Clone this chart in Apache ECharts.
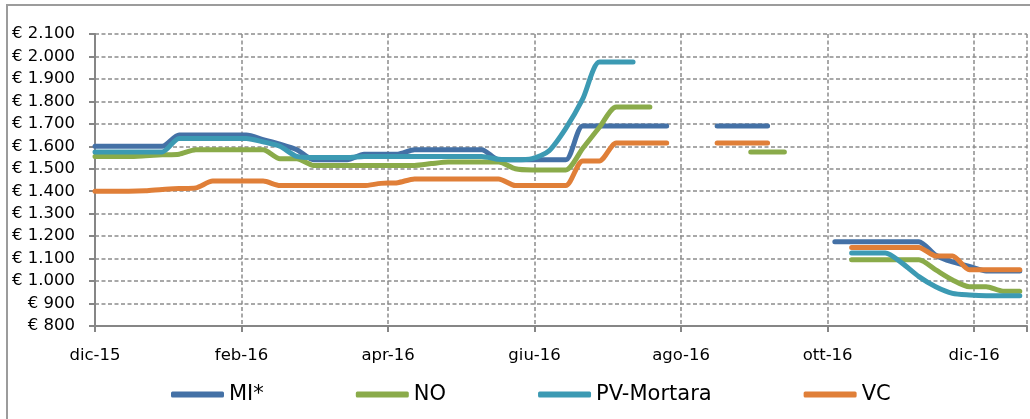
<!DOCTYPE html>
<html lang="it">
<head>
    <meta charset="UTF-8">
    <title>Prezzi settimanali</title>
    <script type="text/javascript" src="https://cdn.jsdelivr.net/npm/echarts@6/dist/echarts.min.js"></script>
    <style>
        html, body { margin: 0; padding: 0; background: #fff; }
    </style>
</head>
<body>
<div id="myChart" style="width:1030px;height:419px;"></div>
<script type="text/javascript">
    // settimane di rilevazione
    var dates = [
        '2015-12-01', '2015-12-08', '2015-12-15', '2015-12-22', '2015-12-29',
        '2016-01-05', '2016-01-12', '2016-01-19', '2016-01-26', '2016-02-02',
        '2016-02-09', '2016-02-16', '2016-02-23', '2016-03-01', '2016-03-08',
        '2016-03-15', '2016-03-22', '2016-03-29', '2016-04-05', '2016-04-12',
        '2016-04-19', '2016-04-26', '2016-05-03', '2016-05-10', '2016-05-17',
        '2016-05-24', '2016-05-31', '2016-06-07', '2016-06-14', '2016-06-21',
        '2016-06-28', '2016-07-05', '2016-07-12', '2016-07-19', '2016-07-26',
        '2016-08-02', '2016-08-09', '2016-08-16', '2016-08-23', '2016-08-30',
        '2016-09-06', '2016-09-13', '2016-09-20', '2016-09-27', '2016-10-04',
        '2016-10-11', '2016-10-18', '2016-10-25', '2016-11-01', '2016-11-08',
        '2016-11-15', '2016-11-22', '2016-11-29', '2016-12-06', '2016-12-13',
        '2016-12-20'
    ];
    var tickLabels = ['dic-15', 'feb-16', 'apr-16', 'giu-16', 'ago-16', 'ott-16', 'dic-16'];
    var seriesNames = ['MI*', 'NO', 'PV-Mortara', 'VC'];

    var mi = [1600, 1600, 1600, 1600, 1600, 1650, 1650, 1650, 1650, 1650,
        1630, 1610, 1585, 1540, 1540, 1540, 1565, 1565, 1565, 1585,
        1585, 1585, 1585, 1585, 1540, 1540, 1540, 1540, 1540, 1690,
        1690, 1690, 1690, 1690, 1690, null, null, 1690, 1690, 1690,
        1690, null, null, null, 1175, 1175, 1175, 1175, 1175, 1175,
        1115, 1085, 1065, 1045, 1045, 1045];
    var no = [1555, 1555, 1555, 1558, 1562, 1565, 1585, 1585, 1585, 1585,
        1585, 1545, 1545, 1515, 1515, 1515, 1515, 1515, 1515, 1515,
        1523, 1530, 1530, 1530, 1530, 1500, 1495, 1495, 1495, 1590,
        1685, 1775, 1775, 1775, null, null, null, null, null, 1575,
        1575, 1575, null, null, null, 1095, 1095, 1095, 1095, 1095,
        1050, 1005, 975, 975, 955, 955];
    var pv = [1575, 1575, 1575, 1575, 1575, 1635, 1635, 1635, 1635, 1635,
        1620, 1600, 1555, 1550, 1550, 1550, 1555, 1555, 1555, 1555,
        1555, 1555, 1555, 1555, 1542, 1540, 1545, 1580, 1680, 1810,
        1975, 1975, 1975, null, null, null, null, null, null, null,
        null, null, null, null, null, 1125, 1125, 1125, 1080, 1020,
        975, 945, 938, 935, 935, 935];
    var vc = [1400, 1400, 1400, 1402, 1408, 1412, 1415, 1445, 1445, 1445,
        1445, 1425, 1425, 1425, 1425, 1425, 1425, 1435, 1438, 1455,
        1455, 1455, 1455, 1455, 1455, 1425, 1425, 1425, 1425, 1535,
        1535, 1615, 1615, 1615, 1615, null, null, 1615, 1615, 1615,
        1615, null, null, null, null, 1150, 1150, 1150, 1150, 1150,
        1112, 1112, 1050, 1050, 1050, 1050];

    var colors = ['#4471a6', '#8aab4a', '#3c9ab3', '#e07f38'];

    // giorni dal 1 dic 2015
    var start = Date.parse('2015-12-01T00:00:00Z');
    function dayOf(d) {
        return Math.round((Date.parse(d + 'T00:00:00Z') - start) / 86400000);
    }
    function toPoints(values) {
        return values.map(function (v, i) { return [dayOf(dates[i]), v]; });
    }

    var myChart = echarts.init(document.getElementById('myChart'));
    var font = 'DejaVu Sans';
    var allValues = [mi, no, pv, vc];

    var option = {
        animation: false,
        color: colors,
        graphic: [{
            type: 'rect',
            shape: { x: 7, y: 5, width: 1040, height: 440 },
            style: { fill: 'none', stroke: '#9c9c9c', lineWidth: 2 },
            silent: true
        }],
        grid: { left: 95, right: 0, top: 34, bottom: 93 },
        legend: {
            left: 166,
            top: 379,
            itemGap: 92,
            itemWidth: 53,
            itemHeight: 6,
            icon: 'roundRect',
            textStyle: { fontFamily: font, fontSize: 21, color: '#000' },
            data: seriesNames
        },
        xAxis: {
            type: 'value',
            min: 0,
            max: 388,
            interval: 61,
            axisLine: { lineStyle: { color: '#868686', width: 2 } },
            axisTick: { show: true, length: 6, lineStyle: { color: '#868686', width: 2 } },
            axisLabel: {
                fontFamily: font, fontSize: 16.5, color: '#000', margin: 21,
                formatter: function (v) {
                    return v % 61 === 0 ? (tickLabels[v / 61] || '') : '';
                }
            },
            splitLine: { show: true, lineStyle: { color: '#8c8c8c', width: 1.5, type: [4, 2.5] } }
        },
        yAxis: {
            type: 'value',
            min: 800,
            max: 2100,
            interval: 100,
            axisLine: { show: true, lineStyle: { color: '#868686', width: 2 } },
            axisTick: { show: true, length: 6, lineStyle: { color: '#868686', width: 2 } },
            axisLabel: {
                fontFamily: font, fontSize: 16.5, color: '#000', margin: 20,
                formatter: function (v) {
                    var s = String(v);
                    if (v >= 1000) s = s.slice(0, -3) + '.' + s.slice(-3);
                    return '€ ' + s;
                }
            },
            splitLine: { show: true, lineStyle: { color: '#8c8c8c', width: 1.5, type: [4, 2.5] } }
        },
        series: seriesNames.map(function (name, k) {
            return {
                name: name,
                type: 'line',
                data: toPoints(allValues[k]),
                smooth: 0.25,
                showSymbol: false,
                symbol: 'none',
                connectNulls: false,
                lineStyle: { width: 5, cap: 'round', join: 'round', color: colors[k] }
            };
        })
    };
    myChart.setOption(option);
</script>
</body>
</html>
